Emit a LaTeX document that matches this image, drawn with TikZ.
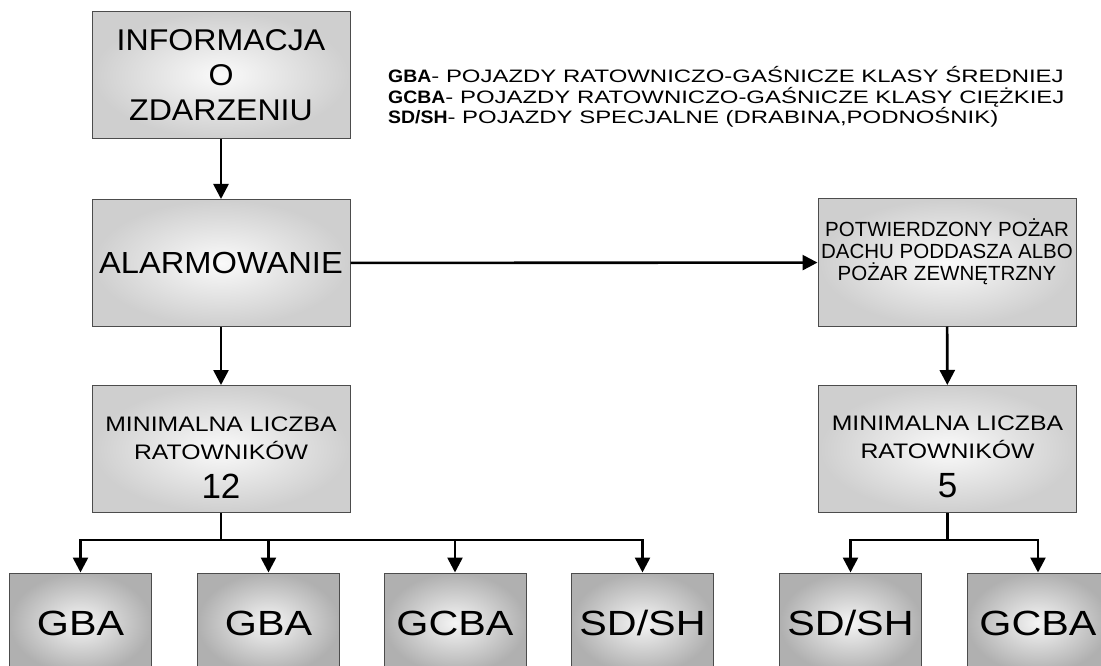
\documentclass[tikz,border=0pt]{standalone}
\usepackage{fontspec}
\setmainfont{Liberation Sans}
\newfontfamily\legendfont{Liberation Sans}[FakeStretch=1.33, BoldFeatures={FakeStretch=1.08}]
\newfontfamily\widefont{Liberation Sans}[FakeStretch=1.18]
\newfontfamily\midfont{Liberation Sans}[FakeStretch=1.07]
\usetikzlibrary{arrows.meta, positioning}

\begin{document}
\begin{tikzpicture}[x=1pt, y=-1pt,
    box/.style={draw=gray!60!black, line width=1pt, inner color=gray!4, outer color=gray!38, minimum width=258pt, minimum height=127pt, align=center, inner sep=0pt},
    veh/.style={box, inner color=gray!8, outer color=gray!62, minimum width=142pt, minimum height=100pt, font=\widefont\fontsize{35}{40}\selectfont},
    arr/.style={-{Triangle[width=15pt,length=15pt]}, line width=2.6pt},
    lin/.style={line width=2.6pt}]
  \useasboundingbox (0,0) rectangle (1101,666);
  \clip (0,0) rectangle (1101,666);

  \node[box, font=\midfont\fontsize{30}{35}\selectfont] at (221, 75) (info) {INFORMACJA\\O\\ZDARZENIU};
  \node[box, font=\midfont\fontsize{30.5}{36}\selectfont] at (221, 263) (alarm) {ALARMOWANIE};
  \node[box, font=\fontsize{20.5}{22}\selectfont] at (947, 262.5) (fire) {POTWIERDZONY POŻAR\\DACHU PODDASZA ALBO\\POŻAR ZEWNĘTRZNY\rule[-25pt]{0pt}{0pt}};
  \node[box, font=\widefont\fontsize{21}{28}\selectfont] at (221, 449) (min-left) {\rule{0pt}{31pt}MINIMALNA LICZBA\\RATOWNIKÓW\\[11pt]{\rmfamily\fontsize{35}{40}\selectfont 12}};
  \node[box, font=\widefont\fontsize{21}{28}\selectfont] at (947.5, 449) (min-right) {\rule{0pt}{31pt}MINIMALNA LICZBA\\RATOWNIKÓW\\[11pt]{\rmfamily\fontsize{35}{40}\selectfont 5}};

  % vehicles
  \node[veh] at (80.5, 623) (gba-a) {GBA};
  \node[veh] at (268.5, 623) (gba-b) {GBA};
  \node[veh] at (455, 623) (gcba-a) {GCBA};
  \node[veh] at (642.5, 623) (sdsh-a) {SD/SH};
  \node[veh] at (850.5, 623) (sdsh-b) {SD/SH};
  \node[veh] at (1038, 623) (gcba-b) {GCBA};

  % legend
  \node[anchor=base west, align=left, inner sep=0pt, font=\legendfont\fontsize{18}{20.5}\selectfont] at (388, 124) (legend) {\textbf{GBA}- POJAZDY RATOWNICZO-GAŚNICZE KLASY ŚREDNIEJ\\\textbf{GCBA}- POJAZDY RATOWNICZO-GAŚNICZE KLASY CIĘŻKIEJ\\\textbf{SD/SH}- POJAZDY SPECJALNE (DRABINA,PODNOŚNIK)};

  \draw[arr] (info) -- (alarm);
  \draw[arr] (alarm) -- (fire);
  \draw[arr] (alarm) -- (min-left);
  \draw[arr] (fire) -- (min-right);

  \coordinate (split-left) at (221, 540);
  \coordinate (split-right) at (947.5, 540);
  \draw[lin] (min-left) -- (split-left);
  \draw[lin] (min-right) -- (split-right);
  \foreach \v in {gba-a, gba-b, gcba-a, sdsh-a}
    \draw[arr] (split-left) -| (\v);
  \foreach \v in {sdsh-b, gcba-b}
    \draw[arr] (split-right) -| (\v);
\end{tikzpicture}
\end{document}
